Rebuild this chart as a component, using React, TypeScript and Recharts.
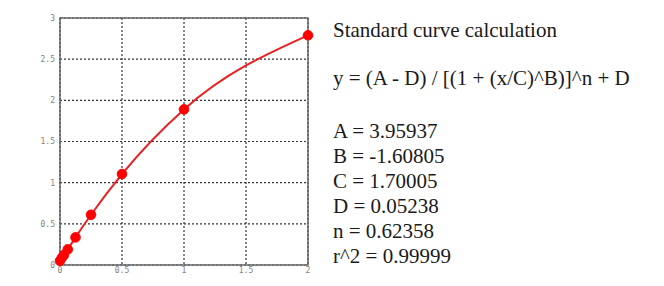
import {
  CartesianGrid,
  Line,
  LineChart,
  ReferenceArea,
  XAxis,
  YAxis,
} from 'recharts';

// Standard curve (4PL-ish fit) with the fit parameters listed to the right.

const concentrations = [0, 0.015625, 0.03125, 0.0625, 0.125, 0.25, 0.5, 1, 2];
const odValues = [0.05, 0.09, 0.12, 0.19, 0.335, 0.61, 1.105, 1.89, 2.79];

const xTicks = [0, 0.5, 1, 1.5, 2];
const yTicks = [0, 0.5, 1, 1.5, 2, 2.5, 3];

const title = 'Standard curve calculation';
const equation = 'y = (A - D) / [(1 + (x/C)^B)]^n + D';
const paramNames = ['A', 'B', 'C', 'D', 'n', 'r^2'];
const paramValues = ['3.95937', '-1.60805', '1.70005', '0.05238', '0.62358', '0.99999'];

const data = concentrations.map((c, i) => ({ conc: c, od: odValues[i] }));

const tickStyle = {
  fontFamily: 'DejaVu Sans Mono, monospace',
  fontSize: 8,
  fill: '#808080',
};

const fmt = (v: number) => String(v);

export default function App() {
  return (
    <div style={{ position: 'absolute', left: 0, top: 0, width: 664, height: 286, background: '#fff' }}>
      <LineChart
        width={664}
        height={286}
        data={data}
        margin={{ top: 18, right: 356, bottom: 0, left: 0 }}
      >
        <CartesianGrid stroke='#333' strokeDasharray='2 2' strokeWidth={1.2} />
        <XAxis
          dataKey='conc'
          type='number'
          domain={[0, 2]}
          ticks={xTicks}
          tickFormatter={fmt}
          height={21}
          axisLine={false}
          tickLine={false}
          tickSize={2}
          tickMargin={0}
          tick={tickStyle}
          interval={0}
        />
        <YAxis
          type='number'
          domain={[0, 3]}
          ticks={yTicks}
          tickFormatter={fmt}
          width={60}
          axisLine={false}
          tickLine={false}
          tickSize={3}
          tickMargin={2}
          tick={tickStyle}
          interval={0}
        />
        <ReferenceArea
          x1={0}
          x2={2}
          y1={0}
          y2={3}
          fill='none'
          fillOpacity={0}
          stroke='#666'
          strokeWidth={1.5}
          ifOverflow='visible'
        />
        <Line
          type='monotone'
          dataKey='od'
          stroke='#e82020'
          strokeWidth={2}
          dot={{ r: 4.8, fill: '#ff0000', stroke: '#ff0000', strokeWidth: 1 }}
          isAnimationActive={false}
        />
      </LineChart>
      <svg
        width={330}
        height={286}
        style={{ position: 'absolute', left: 330, top: 0 }}
      >
        <g fontFamily='Liberation Serif, Times New Roman, serif' fontSize={21} fill='#1a1a1a'>
          <text x={3} y={37}>{title}</text>
          <text x={3} y={85}>{equation}</text>
          {paramNames.map((name, i) => (
            <text key={name} x={3} y={138 + i * 25}>
              {`${name} = ${paramValues[i]}`}
            </text>
          ))}
        </g>
      </svg>
    </div>
  );
}
